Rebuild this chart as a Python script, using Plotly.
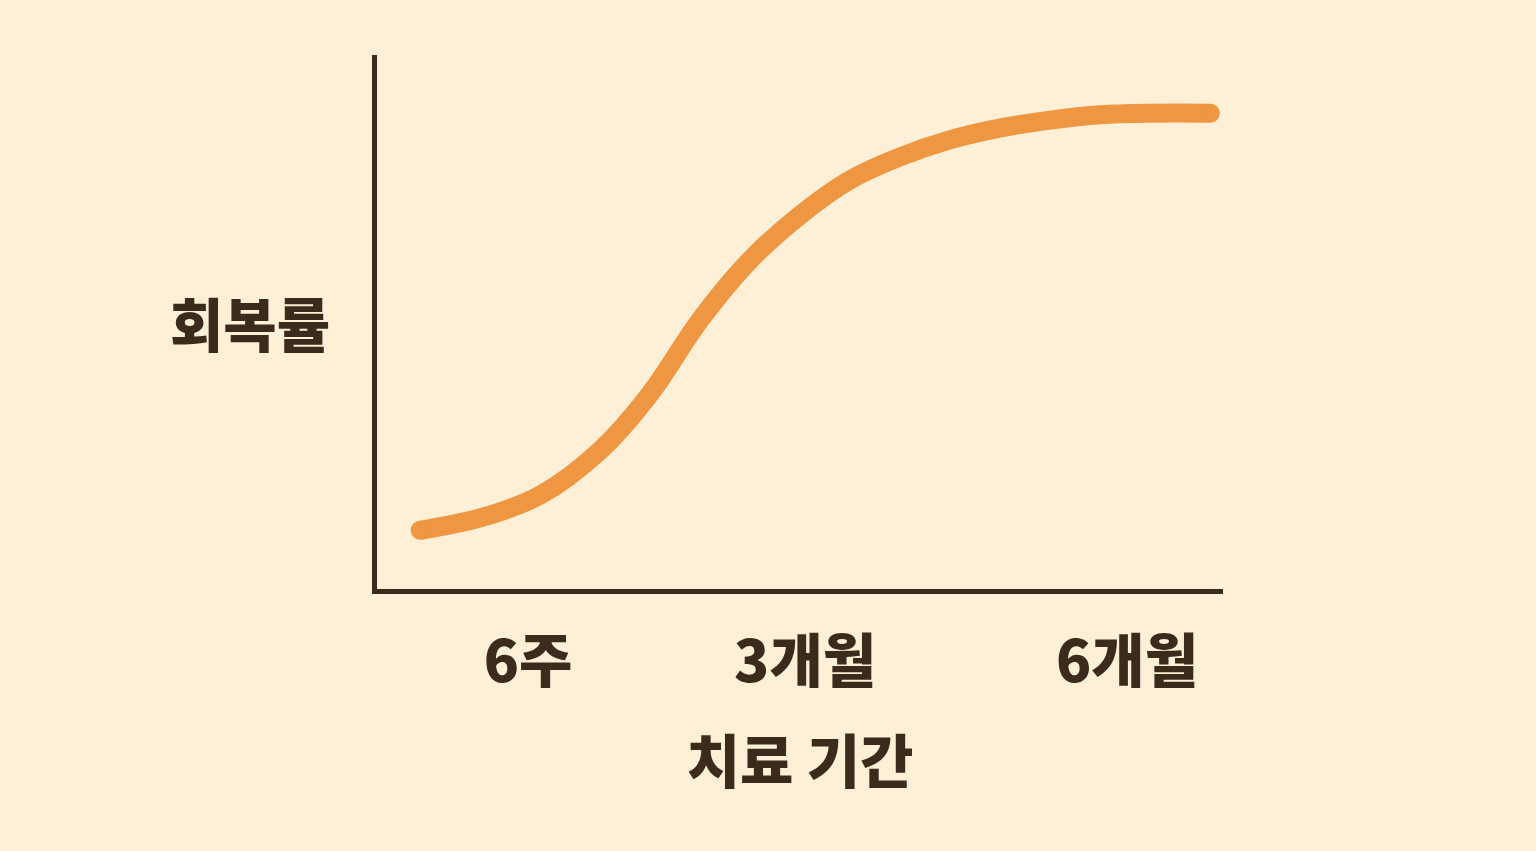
import plotly.graph_objects as go

# Curve samples (relative treatment time 0-100, recovery rate 0-100)
time_pos = [5.1, 12.2, 19.3, 26.4, 32.3, 38.2, 44.1, 50.0, 55.9, 61.8, 67.7, 73.6, 79.6, 85.5, 91.4, 98.5]
recovery = [11.0, 13.3, 17.6, 26.0, 36.6, 50.4, 61.6, 70.0, 76.6, 80.9, 84.1, 86.3, 87.8, 88.8, 89.1, 89.1]

tick_positions = [17.85, 50.6, 88.65]
tick_labels = ["6주", "3개월", "6개월"]

x_title = "치료 기간"
y_title = "회복률"

BG = "#FDF0D7"
INK = "#3A2B1C"
ORANGE = "#EE9642"
FONT = "Noto Sans CJK KR"

fig = go.Figure()
fig.add_trace(go.Scatter(
    x=time_pos, y=recovery, mode="lines",
    line=dict(color=ORANGE, width=19, shape="spline", smoothing=1.0),
    hoverinfo="skip", showlegend=False,
))
# round caps at the ends
fig.add_trace(go.Scatter(
    x=[time_pos[0], time_pos[-1]], y=[recovery[0], recovery[-1]], mode="markers",
    marker=dict(color=ORANGE, size=19, line=dict(width=0)),
    hoverinfo="skip", showlegend=False,
))

fig.update_layout(
    width=1536, height=851,
    paper_bgcolor=BG, plot_bgcolor=BG,
    margin=dict(l=377, r=313, t=55, b=262),
    font=dict(family=FONT, color=INK),
    xaxis=dict(
        range=[0, 100], showgrid=False, zeroline=False,
        showline=True, linecolor=INK, linewidth=5,
        tickmode="array", tickvals=tick_positions, ticktext=tick_labels,
        ticks="outside", ticklen=18, tickcolor=BG, tickwidth=1,
        tickfont=dict(family=FONT, size=58, color=INK, weight=900),
        title=dict(text=x_title, font=dict(family=FONT, size=58, color=INK, weight=900), standoff=46),
        fixedrange=True,
    ),
    yaxis=dict(
        range=[0, 100], showgrid=False, zeroline=False,
        showline=True, linecolor=INK, linewidth=5,
        showticklabels=False, ticks="", fixedrange=True,
    ),
    annotations=[dict(
        text=y_title, xref="paper", yref="paper", x=-0.150, y=0.5,
        showarrow=False, xanchor="center", yanchor="middle",
        font=dict(family=FONT, size=58, color=INK, weight=900),
    )],
)

fig.write_html(
    "out.html",
    config={"displayModeBar": False},
    post_script="document.body.style.margin='0';document.body.style.background='#FDF0D7';",
)
